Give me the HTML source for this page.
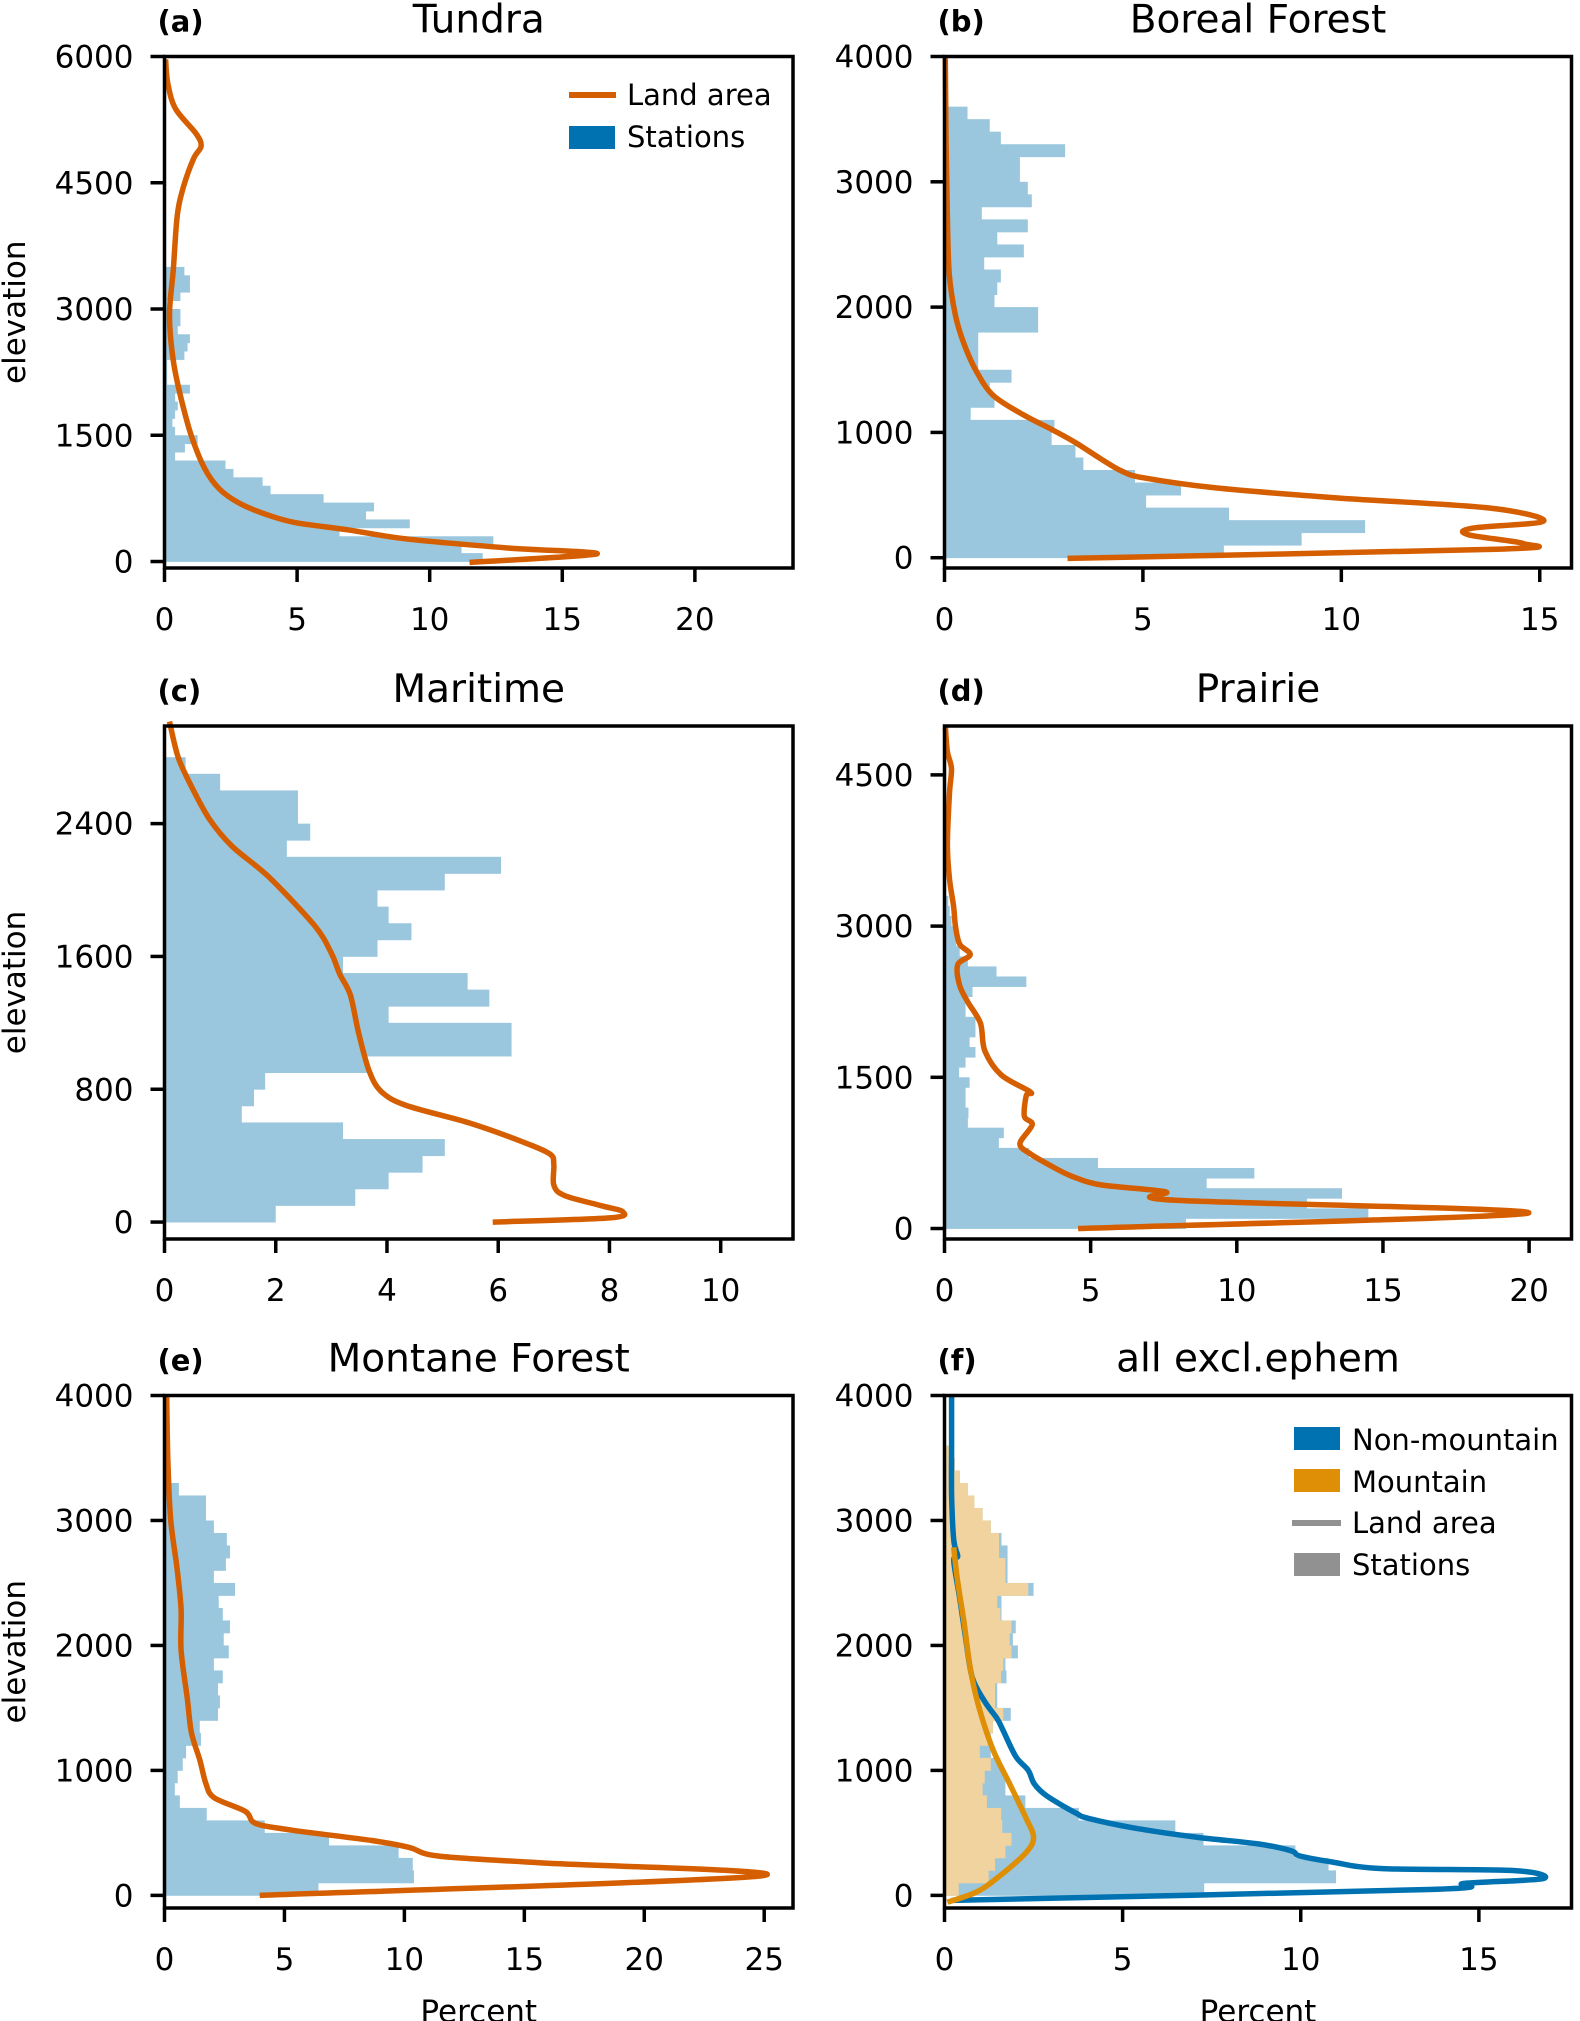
<!DOCTYPE html>
<html><head><meta charset="utf-8">
<style>
html,body{margin:0;padding:0;background:#fff;}
svg{display:block;font-family:"DejaVu Sans","Liberation Sans",sans-serif;}
</style></head>
<body>
<svg id="fig" width="1580" height="2021" viewBox="0 0 1580 2021" xmlns="http://www.w3.org/2000/svg"></svg>
<script>
// ---------- data (percent per 100 m bin, starting at 0 m) ----------
const tundraBars = [12.0,11.2,12.4,6.6,9.25,7.6,7.9,6.0,4.0,3.7,2.6,2.3,0.4,0.77,1.25,0.4,0.3,0.4,0.5,0.4,0.96,0.1,0.1,0.1,0.75,0.87,0.96,0.5,0.6,0.6,0.1,0.6,0.96,0.96,0.75];
const tundraLineX = [11.5,16.3,13.0,9.2,6.9,4.9,3.8,2.8,2.05,1.5,1.0,0.62,0.33,0.19,0.33,0.48,0.71,1.1,1.38,1.19,0.42,0.13,0.04];
const tundraLineY = [-10,90,160,265,377,465,563,696,868,1113,1505,1946,2387,2926,3466,4103,4446,4789,4936,5083,5377,5672,5966];

const borealBars = [7.04,9.0,10.6,7.17,5.08,5.96,4.8,3.5,3.3,2.7,2.77,0.66,1.26,1.14,1.69,0.85,0.85,0.85,2.36,2.36,1.26,1.33,1.42,1.0,2.0,1.33,2.1,0.94,2.2,2.1,1.9,1.9,3.04,1.42,1.14,0.58];
const borealLineX = [3.1,13.9,14.6,13.2,13.3,15.1,13.7,10.0,6.84,5.0,4.45,3.93,3.3,2.68,1.95,1.22,0.8,0.49,0.28,0.12,0.07,0.04,0.02];
const borealLineY = [-5,68,112,184,236,293,398,475,557,639,694,790,919,1027,1147,1298,1490,1709,1928,2258,2751,3300,3986];

const maritimeBars = [2.0,3.43,4.03,4.64,5.04,3.21,1.39,1.61,1.81,3.64,6.24,6.24,4.03,5.84,5.45,3.21,3.83,4.44,4.03,3.83,5.04,6.05,2.2,2.62,2.4,2.4,1.0,0.38];
const maritimeLineX = [5.9,8.0,8.24,7.86,7.19,7.0,7.0,6.93,6.44,5.47,4.35,3.9,3.68,3.49,3.34,3.15,3.0,2.7,1.88,1.21,0.8,0.46,0.24,0.09];
const maritimeLineY = [0,25,62,98,160,223,348,410,483,598,702,785,910,1140,1369,1494,1619,1785,2077,2265,2431,2640,2806,3015];

const prairieBars = [8.26,14.5,12.4,13.6,8.97,10.6,5.25,2.9,1.86,2.03,0.8,0.82,0.72,0.72,0.86,0.5,0.72,1.06,0.86,1.06,1.06,0.72,0.72,0.96,2.8,1.78,0.8,0.52,0.4,0.4,0.24,0.18,0.13];
const prairieLineX = [4.57,19.97,7.9,7.55,5.35,4.36,3.65,2.94,2.58,3.0,2.73,2.8,2.94,1.94,1.38,1.23,0.81,0.52,0.45,0.88,0.52,0.38,0.31,0.17,0.1,0.17,0.24,0.1,0.03];
const prairieLineY = [0,153,280,365,433,518,620,740,842,1030,1115,1320,1354,1524,1763,2036,2240,2410,2615,2717,2820,2990,3195,3467,3808,4320,4560,4730,4970];

const montaneBars = [6.42,10.4,10.35,9.76,6.86,4.18,1.76,0.64,0.43,0.55,0.76,0.9,1.52,1.47,2.23,2.31,2.23,2.43,2.06,2.68,2.47,2.73,2.43,2.26,2.94,2.06,2.56,2.73,2.6,2.06,1.73,1.73,0.6];
const montaneLineX = [3.97,24.87,15.7,11.4,10.2,8.64,5.35,3.8,3.37,2.07,1.73,1.47,1.12,0.95,0.69,0.69,0.52,0.26,0.14,0.09];
const montaneLineY = [0,156,260,315,384,439,521,576,672,782,892,1084,1303,1577,1961,2291,2620,3004,3470,3992];

const nonMtnBars = [7.29,10.99,10.78,9.85,7.27,6.48,3.77,2.27,1.71,1.71,1.57,1.3,1.3,1.36,1.86,1.48,1.48,1.74,1.71,2.06,1.92,2.0,1.6,1.6,2.5,1.77,1.77,1.77,1.6,1.3,1.07,0.84,0.66,0.43,0.29,0.14];
const mtnBars = [0.4,1.24,1.42,1.71,1.88,1.62,1.59,1.19,1.07,1.13,1.3,0.99,1.24,1.36,1.65,1.42,1.42,1.59,1.65,1.88,1.83,1.88,1.57,1.48,2.35,1.71,1.71,1.53,1.53,1.3,1.07,0.84,0.66,0.43,0.29,0.14];
const nonMtnLineX = [0.2,13.6,14.6,16.8,16.0,12.3,10.9,9.97,9.73,8.8,7.06,5.31,4.03,3.69,2.87,2.52,2.35,2.0,1.65,1.48,1.13,0.78,0.6,0.43,0.26,0.37,0.26,0.2,0.2,0.2];
const nonMtnLineY = [-40,47,96,134,198,214,266,316,357,412,466,540,617,658,796,892,1001,1111,1317,1413,1550,1742,2044,2373,2675,2716,2840,3196,3608,3992];
const mtnLineX = [0.08,0.9,1.53,2.29,2.5,2.29,1.83,1.36,0.95,0.72,0.55,0.37,0.29,0.26];
const mtnLineY = [-55,27,151,343,466,617,892,1166,1523,1824,2181,2510,2702,2785];

const tickA_Y = [0,1500,3000,4500,6000], tickA_X = [0,5,10,15,20];
const tickB_Y = [0,1000,2000,3000,4000], tickB_X = [0,5,10,15];
const tickC_Y = [0,800,1600,2400], tickC_X = [0,2,4,6,8,10];
const tickD_Y = [0,1500,3000,4500], tickD_X = [0,5,10,15,20];
const tickE_Y = [0,1000,2000,3000,4000], tickE_X = [0,5,10,15,20,25];
const tickF_Y = [0,1000,2000,3000,4000], tickF_X = [0,5,10,15];

// ---------- drawing ----------
const NS = "http://www.w3.org/2000/svg";
const svg = document.getElementById('fig');
function mk(tag, attrs, parent){
  const e = document.createElementNS(NS, tag);
  for (const k in attrs) e.setAttribute(k, attrs[k]);
  (parent||svg).appendChild(e);
  return e;
}
const BLUEBAR = '#9ac7de', TAN = '#f0d39f', ORANGE = '#d55e00', BLUE = '#0072b2', MORANGE = '#de8f05';

function smoothPath(pts){
  let d = 'M' + pts[0][0].toFixed(1) + ',' + pts[0][1].toFixed(1);
  for (let i = 0; i < pts.length - 1; i++){
    const p0 = pts[i-1] || pts[i], p1 = pts[i], p2 = pts[i+1], p3 = pts[i+2] || p2;
    const t = 0.16;
    const c1 = [p1[0] + (p2[0]-p0[0])*t, p1[1] + (p2[1]-p0[1])*t];
    const c2 = [p2[0] - (p3[0]-p1[0])*t, p2[1] - (p3[1]-p1[1])*t];
    d += ' C' + c1[0].toFixed(1)+','+c1[1].toFixed(1)+' '+c2[0].toFixed(1)+','+c2[1].toFixed(1)+' '+p2[0].toFixed(1)+','+p2[1].toFixed(1);
  }
  return d;
}

function panel(cfg){
  const g = mk('g', {});
  
  
  const L=cfg.x0, R=cfg.x1, T=cfg.y0, B=cfg.y1;
  const sx = v => L + v / cfg.xmax * (R - L);
  const sy = v => B - (v - cfg.ymin) / (cfg.ymax - cfg.ymin) * (B - T);
  cfg.bars.forEach(series => {
    series.data.forEach((v, i) => {
      const y1 = sy(i*100), y2 = sy((i+1)*100);
      const r = mk('rect', {x:sx(0), y:y2, width:Math.max(0, sx(v)-sx(0)), height:y1-y2+0.4, fill:series.color}, g);
      
      
    });
  });
  cfg.lines.forEach(ln => {
    const pts = ln.x.map((v,i)=>[sx(v), sy(ln.y[i])]);
    const p = mk('path', {d:smoothPath(pts), fill:'none', stroke:ln.color, 'stroke-width':5.5, 'stroke-linejoin':'round', 'stroke-linecap':'butt'}, g);
    
    
  });
  const fr = mk('rect', {x:L, y:T, width:R-L, height:B-T, fill:'none', stroke:'#000', 'stroke-width':3.5}, g);
  
  
  cfg.yt.forEach(v => {
    const y = sy(v);
    mk('line', {x1:L-14, x2:L, y1:y, y2:y, stroke:'#000', 'stroke-width':3.5}, g);
    const t = mk('text', {x:L-31, y:y+11, 'text-anchor':'end', 'font-size':31}, g);
    t.textContent = v;
    
    
  });
  cfg.xt.forEach(v => {
    const x = sx(v);
    mk('line', {x1:x, x2:x, y1:B, y2:B+14, stroke:'#000', 'stroke-width':3.5}, g);
    const t = mk('text', {x:x, y:B+62, 'text-anchor':'middle', 'font-size':31}, g);
    t.textContent = v;
    
    
  });
  const tt = mk('text', {x:(L+R)/2, y:T-24, 'text-anchor':'middle', 'font-size':39}, g);
  tt.textContent = cfg.title;
  
  
  const lb = mk('text', {x:L-7, y:T-25, 'font-size':29, 'font-weight':'bold'}, g);
  lb.textContent = cfg.label;
  
  
  if (cfg.ylabel){
    const yl = mk('text', {x:0, y:0, 'text-anchor':'middle', 'font-size':31, transform:'translate(25,'+((T+B)/2)+') rotate(-90)'}, g);
    yl.textContent = 'elevation';
    
    
  }
  if (cfg.xlabel){
    const xl = mk('text', {x:(L+R)/2, y:B+114, 'text-anchor':'middle', 'font-size':31}, g);
    xl.textContent = 'Percent';
    
    
  }
}

const LX0=164.5, LX1=793, RX0=944.5, RX1=1571.5;
panel({name:'panel-tundra', x0:LX0,x1:LX1,y0:56.5,y1:568, xmax:23.7, ymin:-77, ymax:6000, yt:tickA_Y, xt:tickA_X, title:'Tundra', label:'(a)', ylabel:true,
  bars:[{name:'stations', data:tundraBars, color:BLUEBAR}], lines:[{name:'land-area-line', x:tundraLineX, y:tundraLineY, color:ORANGE}]});
panel({name:'panel-boreal', x0:RX0,x1:RX1,y0:56.5,y1:568, xmax:15.8, ymin:-82, ymax:4000, yt:tickB_Y, xt:tickB_X, title:'Boreal Forest', label:'(b)',
  bars:[{name:'stations', data:borealBars, color:BLUEBAR}], lines:[{name:'land-area-line', x:borealLineX, y:borealLineY, color:ORANGE}]});
panel({name:'panel-maritime', x0:LX0,x1:LX1,y0:726,y1:1239, xmax:11.3, ymin:-102, ymax:2988, yt:tickC_Y, xt:tickC_X, title:'Maritime', label:'(c)', ylabel:true,
  bars:[{name:'stations', data:maritimeBars, color:BLUEBAR}], lines:[{name:'land-area-line', x:maritimeLineX, y:maritimeLineY, color:ORANGE}]});
panel({name:'panel-prairie', x0:RX0,x1:RX1,y0:726,y1:1239, xmax:21.45, ymin:-104, ymax:4985, yt:tickD_Y, xt:tickD_X, title:'Prairie', label:'(d)',
  bars:[{name:'stations', data:prairieBars, color:BLUEBAR}], lines:[{name:'land-area-line', x:prairieLineX, y:prairieLineY, color:ORANGE}]});
panel({name:'panel-montane', x0:LX0,x1:LX1,y0:1395.5,y1:1908, xmax:26.2, ymin:-101, ymax:4000, yt:tickE_Y, xt:tickE_X, title:'Montane Forest', label:'(e)', ylabel:true, xlabel:true,
  bars:[{name:'stations', data:montaneBars, color:BLUEBAR}], lines:[{name:'land-area-line', x:montaneLineX, y:montaneLineY, color:ORANGE}]});
panel({name:'panel-all', x0:RX0,x1:RX1,y0:1395.5,y1:1908, xmax:17.6, ymin:-101, ymax:4000, yt:tickF_Y, xt:tickF_X, title:'all excl.ephem', label:'(f)', xlabel:true,
  bars:[{name:'non-mountain-stations', data:nonMtnBars, color:BLUEBAR},{name:'mountain-stations', data:mtnBars, color:TAN}],
  lines:[{name:'non-mountain-land-line', x:nonMtnLineX, y:nonMtnLineY, color:BLUE},{name:'mountain-land-line', x:mtnLineX, y:mtnLineY, color:MORANGE}]});

function legText(x,y,s,name){
  const t = mk('text', {x:x, y:y, 'font-size':29});
  t.textContent = s;
  
  
}
let e;
e = mk('line', {x1:569, x2:616, y1:95, y2:95, stroke:ORANGE, 'stroke-width':6});


legText(627, 105, 'Land area', 'legend-land-area');
e = mk('rect', {x:569, y:126, width:46, height:23, fill:BLUE});


legText(627, 147, 'Stations', 'legend-stations');

e = mk('rect', {x:1294, y:1427, width:46, height:23, fill:BLUE});


legText(1352, 1450, 'Non-mountain', 'legend-non-mountain');
e = mk('rect', {x:1294, y:1469, width:46, height:23, fill:MORANGE});


legText(1352, 1492, 'Mountain', 'legend-mountain');
e = mk('line', {x1:1292, x2:1341, y1:1523, y2:1523, stroke:'#919191', 'stroke-width':6});


legText(1352, 1533, 'Land area', 'legend-land-area');
e = mk('rect', {x:1294, y:1553, width:46, height:23, fill:'#919191'});


legText(1352, 1575, 'Stations', 'legend-stations');
</script>
</body></html>
